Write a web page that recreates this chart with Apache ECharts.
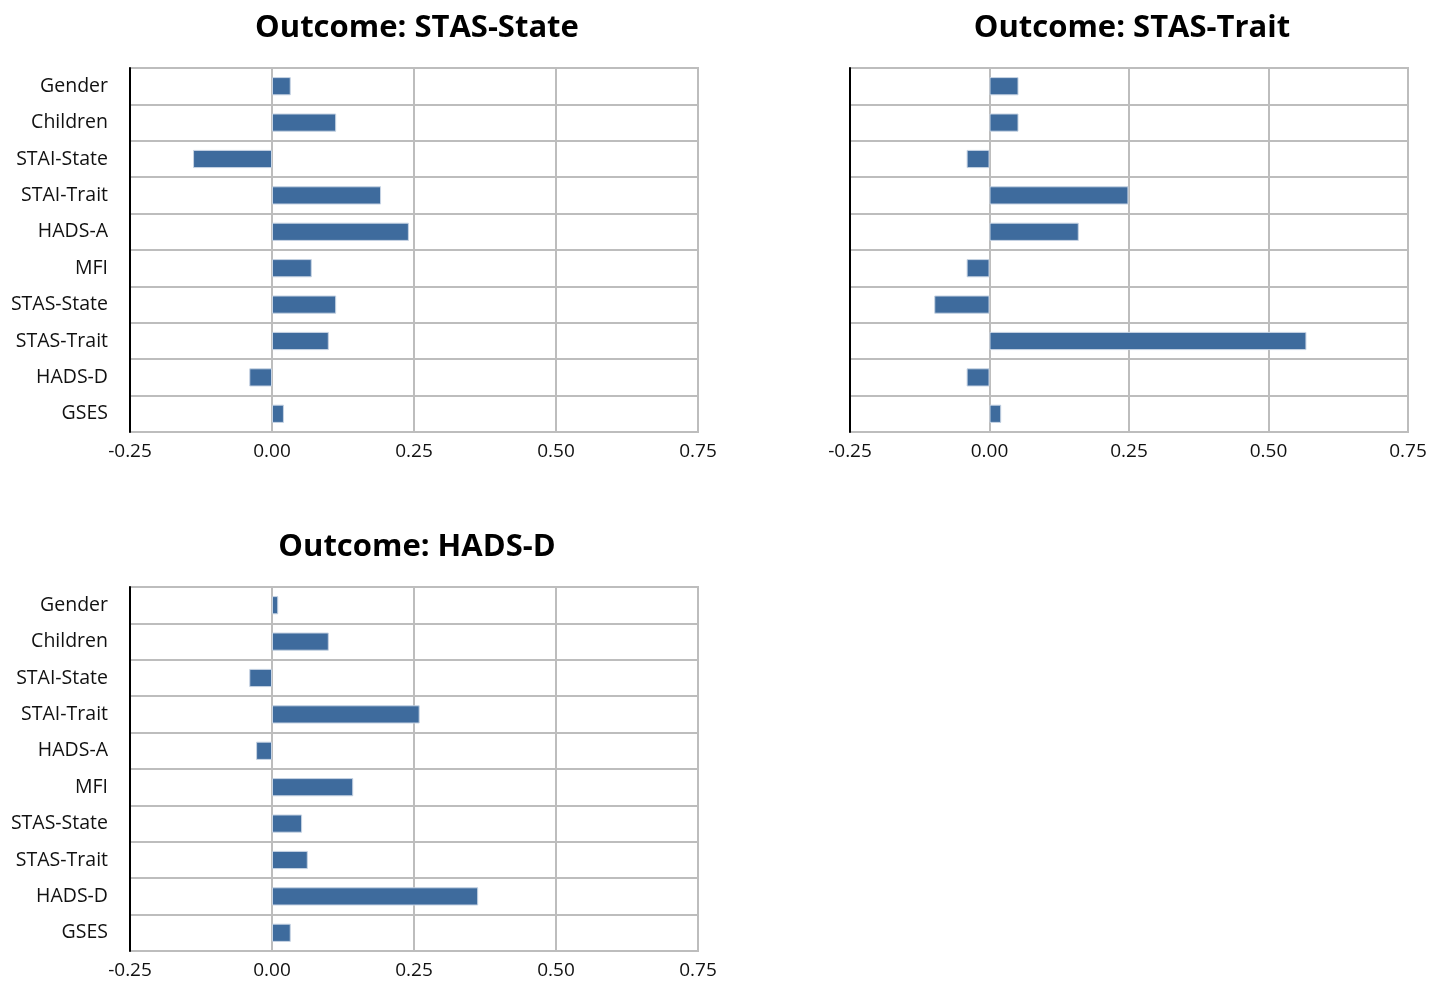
<!DOCTYPE html>
<html>
<head>
<meta charset="utf-8">
<script src="https://cdn.jsdelivr.net/npm/echarts@6/dist/echarts.min.js"></script>
<style>
  html, body { margin: 0; padding: 0; background: #fff; }
  #main { width: 1443px; height: 983px; }
</style>
</head>
<body>
<div id="main"></div>
<script>
// predictors, top to bottom
var predictors = ['Gender', 'Children', 'STAI-State', 'STAI-Trait', 'HADS-A', 'MFI', 'STAS-State', 'STAS-Trait', 'HADS-D', 'GSES'];
var xTicks = [-0.25, 0, 0.25, 0.5, 0.75];

// coefficients per outcome
var stasState = [0.033, 0.113, -0.139, 0.192, 0.241, 0.07, 0.113, 0.10, -0.04, 0.021];
var stasTrait = [0.052, 0.052, -0.041, 0.249, 0.16, -0.041, -0.099, 0.568, -0.041, 0.021];
var hadsD = [0.011, 0.10, -0.04, 0.26, -0.028, 0.143, 0.053, 0.063, 0.363, 0.033];

var titles = ['Outcome: STAS-State', 'Outcome: STAS-Trait', 'Outcome: HADS-D'];

var font = 'Open Sans';
var gridGray = '#bdbdbd';
var barBlue = '#3e6b9d';

var chart = echarts.init(document.getElementById('main'));

// panel boxes in px
var boxes = [
    {left: 130, top: 68, width: 568, height: 364},
    {left: 850, top: 68, width: 558, height: 364},
    {left: 130, top: 587, width: 568, height: 364}
];
var showLabels = [true, false, true];
var seriesData = [stasState, stasTrait, hadsD];

var grids = [], xAxes = [], yAxes = [], series = [], titleOpts = [];
boxes.forEach(function (b, i) {
    grids.push({
        left: b.left, top: b.top, width: b.width, height: b.height,
        show: true, borderColor: gridGray, borderWidth: 2, containLabel: false
    });
    titleOpts.push({
        text: titles[i],
        left: b.left + b.width / 2 - 2,
        top: b.top - 60,
        textAlign: 'center',
        textStyle: {fontFamily: font, fontWeight: 'bold', fontSize: 31, color: '#000'}
    });
    xAxes.push({
        type: 'value', gridIndex: i,
        min: xTicks[0], max: xTicks[xTicks.length - 1], interval: 0.25,
        axisLine: {show: false},
        axisTick: {show: false},
        axisLabel: {
            fontFamily: font, fontSize: 19, color: '#111', margin: 10,
            formatter: function (v) { return v.toFixed(2); }
        },
        splitLine: {show: true, lineStyle: {color: gridGray, width: 2}}
    });
    yAxes.push({
        type: 'category', gridIndex: i, data: predictors, inverse: true,
        axisLine: {show: true, onZero: false, lineStyle: {color: '#000', width: 2}},
        axisTick: {show: false},
        axisLabel: {show: showLabels[i], fontFamily: font, fontSize: 19.5, color: '#111', margin: 22},
        splitLine: {show: true, lineStyle: {color: gridGray, width: 2}}
    });
    series.push({
        type: 'bar', xAxisIndex: i, yAxisIndex: i,
        data: seriesData[i],
        barWidth: '50%',
        itemStyle: {color: barBlue, borderColor: '#c6d3e3', borderWidth: 1},
        silent: true
    });
});

chart.setOption({
    animation: false,
    backgroundColor: '#fff',
    title: titleOpts,
    grid: grids,
    xAxis: xAxes,
    yAxis: yAxes,
    series: series
});
</script>
</body>
</html>
